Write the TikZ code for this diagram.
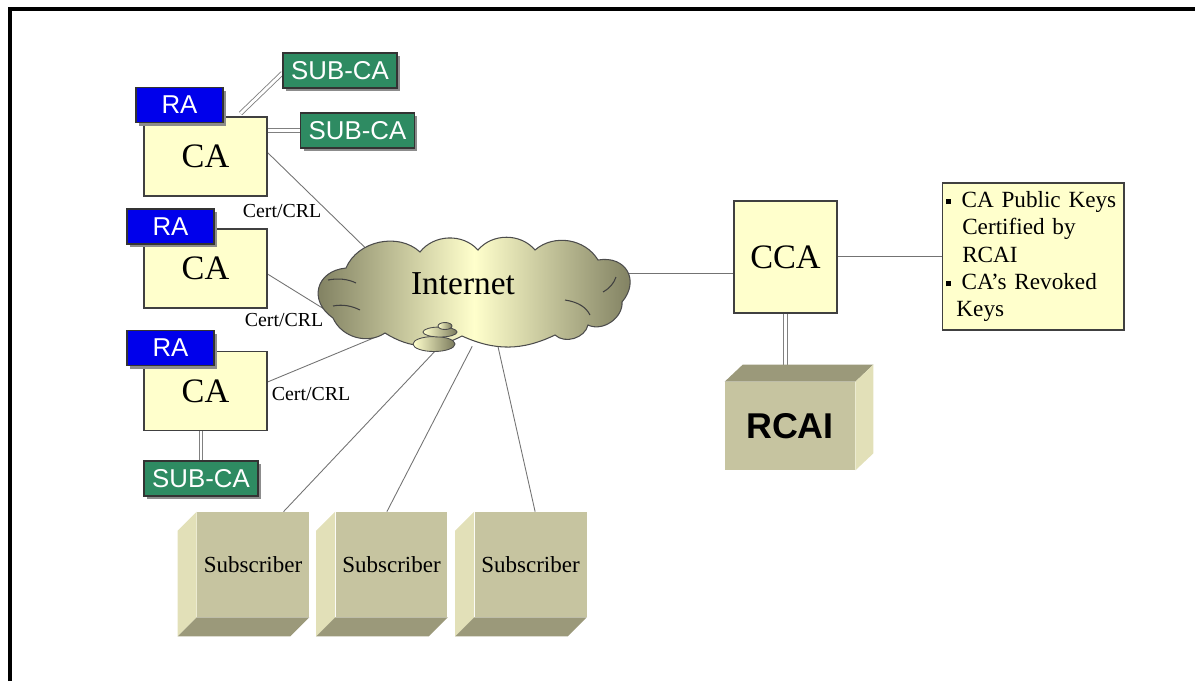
\documentclass[tikz,border=0pt]{standalone}
\usepackage{fontspec}
\setmainfont{Liberation Serif}
\setsansfont{Liberation Sans}
\usetikzlibrary{shapes.symbols,shadows,calc,backgrounds}
\definecolor{cayellow}{RGB}{255,255,204}
\definecolor{rablue}{RGB}{0,0,235}
\definecolor{subgreen}{RGB}{46,139,98}
\definecolor{olivedark}{RGB}{122,122,92}
\definecolor{boxfront}{RGB}{198,196,160}
\definecolor{boxlight}{RGB}{226,224,184}
\definecolor{boxdark}{RGB}{155,153,122}
\newcommand{\sqbul}{\rule[0.3ex]{0.22em}{0.22em}\hspace{0.45em}}
\tikzset{
  cabox/.style={draw=black!75,line width=.6pt,fill=cayellow,minimum width=2.46cm,minimum height=1.58cm,inner sep=0pt,font=\fontsize{19.5}{22}\selectfont},
  rabox/.style={draw=black!80,line width=.6pt,fill=rablue,text=white,minimum width=1.74cm,minimum height=.7cm,inner sep=0pt,font=\sffamily\fontsize{14.7}{16}\selectfont,drop shadow={shadow xshift=.06cm,shadow yshift=-.06cm,fill=black!45,opacity=1}},
  subbox/.style={rabox,fill=subgreen,minimum width=2.28cm},
  certlbl/.style={inner sep=0pt,font=\fontsize{11.3}{13}\selectfont},
  subfront/.style={fill=boxfront,minimum width=2.24cm,minimum height=2.1cm,inner sep=0pt,font=\fontsize{13.1}{15}\selectfont},
  infobox/.style={draw=black!75,line width=.6pt,fill=cayellow,minimum width=3.64cm,minimum height=2.94cm,text width=3.48cm,inner xsep=.08cm,align=left,font=\fontsize{13.2}{15.6}\selectfont},
  wire/.style={draw=black!55,line width=.5pt},
  dbl/.style={draw=black!50,line width=.5pt,double=white,double distance=1.6pt},
  bubble/.style={draw=black!70,line width=.5pt,left color=cayellow,right color=olivedark},
  curl/.style={draw=black!75,line width=.6pt},
}
\begin{document}
\begin{tikzpicture}[x=0.02cm,y=-0.02cm]
	\useasboundingbox (0,0) rectangle (1195,681);
	\draw[line width=.08cm] (10,681) -- (10,9) -- (1195,9);

	\node[cabox] (ca1) at (205.5,156.5) {CA};
	\node[rabox] (ra1) at (179.5,105) {RA};
	\node[cabox] (ca2) at (205.5,268.5) {CA};
	\node[rabox] (ra2) at (170.5,226.5) {RA};
	\node[cabox] (ca3) at (205.5,391) {CA};
	\node[rabox] (ra3) at (170.5,348) {RA};

	\node[subbox] (subca1) at (340,70.5) {SUB-CA};
	\node[subbox] (subca2) at (357.5,130.5) {SUB-CA};
	\node[subbox] (subca3) at (201,478.5) {SUB-CA};

	\node[certlbl] (cl1) at (282,211) {Cert/CRL};
	\node[certlbl] (cl2) at (284,320) {Cert/CRL};
	\node[certlbl] (cl3) at (311,394) {Cert/CRL};

	% the cloud
	\node[cloud,cloud puffs=10,cloud puff arc=95,cloud ignores aspect,minimum width=6.3cm,minimum height=2.12cm] (net) at (475,293) {};
	\shade[draw=black!70,line width=.6pt,left color=olivedark,right color=olivedark,middle color=cayellow]
		(333,318) to[bend left=70,looseness=1.5] (346,268) to[bend left=55] (420,252)
		to[bend left=50] (478,250) to[bend left=50] (535,250) to[bend left=50] (598,260)
		to[bend left=70,looseness=1.5] (622,302) to[bend left=60] (588,325) to[bend left=60] (555,335)
		to[bend left=25] (462,336) to[bend left=30] (385,333) to[bend left=50] cycle;
	\node[font=\fontsize{19}{22}\selectfont] (netlbl) at ($(net.center)+(-12,-9)$) {Internet};
	\draw[curl] (328,280) .. controls (338,278) and (348,279) .. (356,283);
	\draw[curl] (333,306) .. controls (343,304) and (352,306) .. (360,310);
	\draw[curl] (603,292) .. controls (610,288) and (614,283) .. (616,277);
	\draw[curl] (565,300) .. controls (578,302) and (586,307) .. (590,315);
	\shade[bubble] (434,344) ellipse [x radius=21,y radius=7.5];
	\shade[bubble] (440,332) ellipse [x radius=17,y radius=5];
	\shade[bubble] (445,326) ellipse [x radius=7,y radius=3.5];

	\foreach \i/\x in {1/253,2/391.5,3/530.5}{
		\node[subfront] (sub\i) at (\x,564.5) {Subscriber};
		\fill[boxlight] (sub\i.north west) -- ++(-19,19) -- ($(sub\i.south west)+(-19,19)$) -- (sub\i.south west) -- cycle;
		\fill[boxdark] (sub\i.south west) -- (sub\i.south east) -- ++(-19,19) -- ($(sub\i.south west)+(-19,19)$) -- cycle;
	}

	\node[cabox,minimum width=2.06cm,minimum height=2.24cm] (cca) at (785.5,257) {CCA};
	\node[infobox] (keys) at (1033,256.5) {\sqbul CA Public Keys\\\hspace*{0.7em}Certified by\\\hspace*{0.7em}RCAI\\\sqbul CA’s Revoked\\\hspace*{0.45em}Keys};

	\node[subfront,minimum width=2.6cm,minimum height=1.76cm,font=\sffamily\bfseries\fontsize{20.4}{24}\selectfont] (rcai) at (790,426) {RCAI};
	\fill[boxdark] (rcai.north west) -- ++(18,-17) -- ($(rcai.north east)+(18,-17)$) -- (rcai.north east) -- cycle;
	\fill[boxlight] (rcai.north east) -- ++(18,-17) -- ($(rcai.south east)+(18,-17)$) -- (rcai.south east) -- cycle;
	\coordinate (rtop) at ($(rcai.north east)+(18,-17)$);

	\begin{scope}[on background layer]
		\draw[wire] ($(ca1.east)+(0,-4)$) -- (net.159);
		\draw[wire] ($(ca2.east)+(0,5.5)$) -- (net.186);
		\draw[wire] ($(ca3.east)+(0,-9)$) -- (net.204);
		\draw[wire] (sub1.60) -- (net.238);
		\draw[wire] (sub2.95) -- (net.267);
		\draw[wire] (sub3.85) -- (net.294);
		\draw[wire] (net.8) -- (net.8 -| cca.west);
		\draw[wire] (cca.east |- keys.west) -- (keys.west);
		\draw[dbl] ($(ca1.north east)+(-27,-3)$) -- ($(subca1.west)+(0,2.5)$);
		\draw[dbl] (subca2.west) -- (subca2.west -| ca1.east);
		\draw[dbl] (subca3.north) -- (subca3.north |- ca3.south);
		\draw[dbl] (cca.south) -- (cca.south |- rtop);
	\end{scope}
\end{tikzpicture}
\end{document}
